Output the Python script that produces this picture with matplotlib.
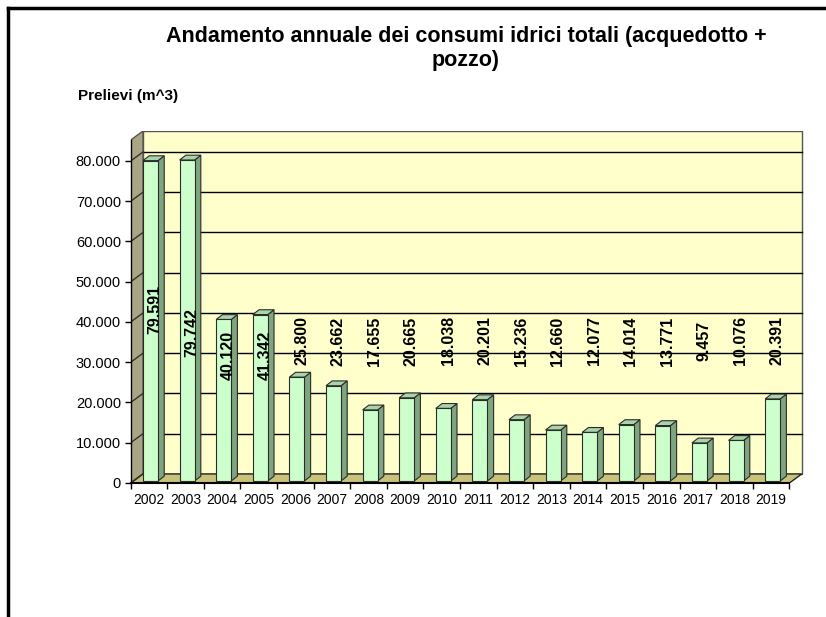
import matplotlib
matplotlib.use("Agg")
import matplotlib.pyplot as plt
from matplotlib.patches import Polygon
from matplotlib.lines import Line2D

plt.rcParams['font.family'] = ['Liberation Sans', 'DejaVu Sans']

# data
years = [str(y) for y in range(2002, 2020)]
prelievi = [79591, 79742, 40120, 41342, 25800, 23662, 17655, 20665, 18038,
            20201, 15236, 12660, 12077, 14014, 13771, 9457, 10076, 20391]
y_ticks = [0, 10000, 20000, 30000, 40000, 50000, 60000, 70000, 80000]

title = "Andamento annuale dei consumi idrici totali (acquedotto +\npozzo)"
y_title = "Prelievi (m^3)"


def fmt(v):
    return f"{v:,}".replace(",", ".")


# 3d look (in data units)
depth_x, depth_y = 0.336, 2250      # wall depth offset
ymax = 85200
bar_x0, bar_x1 = 0.336, 0.746       # bar front face inside category
bar_base = 500
bar_dx, bar_dy = 0.17, 1200         # bar depth

W, H = 826, 617
fig = plt.figure(figsize=(W / 100, H / 100), dpi=100)
fig.patch.set_facecolor("white")

# frame lines of the original picture (left and top only)
fig.add_artist(Line2D([8 / W, 8 / W], [0, 1 - 8 / H], color="black", lw=2.5))
fig.add_artist(Line2D([8 / W, 1], [1 - 8 / H, 1 - 8 / H], color="black", lw=2.5))

ax = fig.add_axes([130.7 / W, (H - 483) / H, 673.4 / W, 352.2 / H])
ax.set_xlim(0, 18.4)
ax.set_ylim(0, 87500)
ax.patch.set_visible(False)
for s in ["top", "right"]:
    ax.spines[s].set_visible(False)
ax.spines["left"].set_bounds(0, ymax)
ax.spines["bottom"].set_bounds(0, len(years))
ax.spines["left"].set_linewidth(1.0)
ax.spines["bottom"].set_linewidth(1.5)

n = len(years)
edge = "#2b2b2b"

# back wall
ax.add_patch(Polygon([(depth_x, depth_y), (n + depth_x, depth_y),
                      (n + depth_x, ymax + depth_y), (depth_x, ymax + depth_y)],
                     closed=True, facecolor="#FFFFCC", edgecolor="#555555", lw=1, zorder=0))
# left wall
ax.add_patch(Polygon([(0, 0), (depth_x, depth_y), (depth_x, ymax + depth_y), (0, ymax)],
                     closed=True, facecolor="#AAA684", edgecolor="#555555", lw=1, zorder=1))
# floor
ax.add_patch(Polygon([(0, 0), (n, 0), (n + depth_x, depth_y), (depth_x, depth_y)],
                     closed=True, facecolor="#C8C27A", edgecolor="#222222", lw=1, zorder=1))

# gridlines on back wall + slanted lines on left wall
for t in y_ticks[1:]:
    ax.plot([depth_x, n + depth_x], [t + depth_y, t + depth_y], color="black", lw=1, zorder=0.5)
for t in y_ticks:
    ax.plot([0, depth_x], [t, t + depth_y], color="#333333", lw=1, zorder=1.5)

# bars
for i, v in enumerate(prelievi):
    x0, x1 = i + bar_x0, i + bar_x1
    y0, y1 = bar_base, v + bar_base
    ax.add_patch(Polygon([(x1, y0), (x1 + bar_dx, y0 + bar_dy), (x1 + bar_dx, y1 + bar_dy), (x1, y1)],
                         closed=True, facecolor="#7FA57F", edgecolor=edge, lw=0.8, zorder=3))
    ax.add_patch(Polygon([(x0, y1), (x1, y1), (x1 + bar_dx, y1 + bar_dy), (x0 + bar_dx, y1 + bar_dy)],
                         closed=True, facecolor="#A9D4A9", edgecolor=edge, lw=0.8, zorder=3))
    ax.add_patch(Polygon([(x0, y0), (x1, y0), (x1, y1), (x0, y1)],
                         closed=True, facecolor="#CCFFCC", edgecolor=edge, lw=0.8, zorder=4))

# data labels (manually moved in the original for the first years)
label_y = 35300
label_y_moved = {"2002": 43200, "2003": 37500, "2004": 31600, "2005": 31600}
for i, (yr, v) in enumerate(zip(years, prelievi)):
    ax.text(i + 0.67, label_y_moved.get(yr, label_y), fmt(v), rotation=90,
            ha="center", va="center", fontsize=11.5, fontweight="bold", zorder=6)

# axes ticks
ax.set_yticks(y_ticks)
ax.set_yticklabels([fmt(t) for t in y_ticks], fontsize=10.5)
ax.tick_params(axis="y", length=4, width=1, direction="out", pad=3)
ax.set_xticks([i + 0.5 for i in range(n)])
ax.set_xticklabels(years, fontsize=10)
ax.set_xticks(range(n + 1), minor=True)
ax.tick_params(axis="x", which="major", length=0, pad=7)
ax.tick_params(axis="x", which="minor", length=4, width=1, direction="out")

fig.text(466 / W, 1 - 26 / H, title, ha="center", va="top", fontsize=15.5,
         fontweight="bold", linespacing=1.2)
fig.text(78 / W, 1 - 96 / H, y_title, ha="left", va="center", fontsize=11,
         fontweight="bold")

fig.savefig("out.png", dpi=100)
